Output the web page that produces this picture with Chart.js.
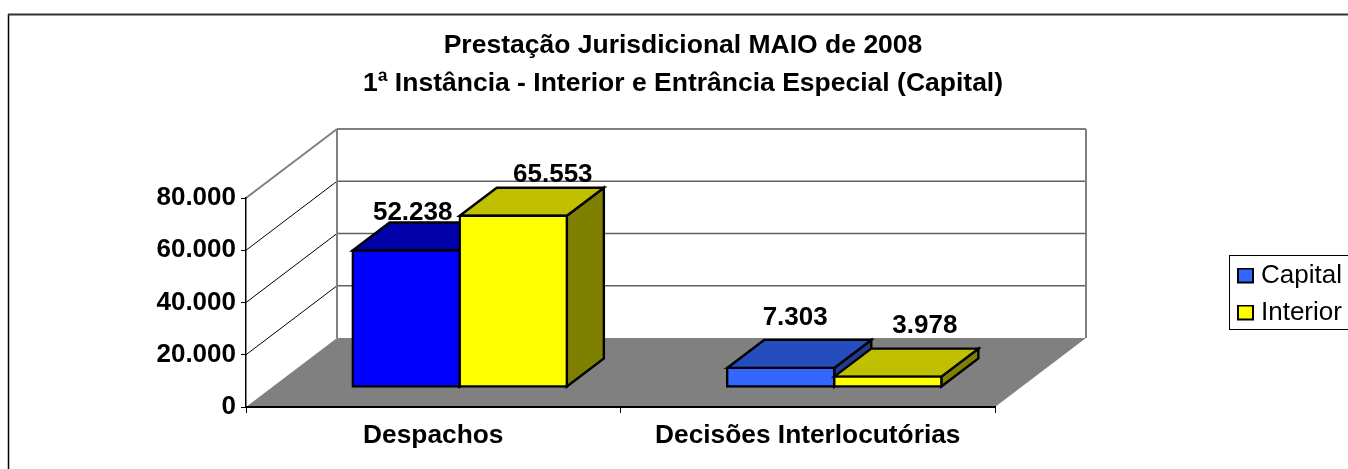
<!DOCTYPE html>
<html lang="pt">
<head>
<meta charset="utf-8">
<style>html,body{margin:0;padding:0;background:#fff;overflow:hidden}canvas{display:block}</style>
<script src="https://cdn.jsdelivr.net/npm/chart.js@4"></script>
</head>
<body>
<canvas id="c" width="1348" height="469"></canvas>
<script>
const categories = ['Despachos', 'Decisões Interlocutórias'];
const capitalValues = [52238, 7303];
const interiorValues = [65553, 3978];
const titleLines = ['Prestação Jurisdicional MAIO de 2008', '1ª Instância - Interior e Entrância Especial (Capital)'];

const capitalFront = ['#0000FF', '#3366FF'];
const capitalTop = ['#0000A8', '#264DBF'];
const capitalSide = ['#000080', '#1F3D8C'];
const interiorFront = ['#FFFF00', '#FFFF00'];
const interiorTop = ['#C0C000', '#C0C000'];
const interiorSide = ['#808000', '#808000'];

const FONT = '"Liberation Sans", Arial, sans-serif';
const fmt = v => String(v).replace(/\B(?=(\d{3})+(?!\d))/g, '.');

// 3-D projection constants (px)
const WALL_DX = 91, WALL_DY = 69;   // depth of floor / walls
const BAR_DX = 26.5, BAR_DY = 20;   // bars stand this far behind the front plane
const TOP_DX = 37, TOP_DY = 28;     // depth of each bar
// value-label offsets from the bar's front-top centre (manually placed in the original)
const labelOffsets = [[[6.5, -38], [14.5, -50.5]], [[39.5, -41], [37, -51]]];
const faces = [[capitalTop, capitalSide], [interiorTop, interiorSide]];

function poly(ctx, pts, fill, stroke, lw) {
  ctx.beginPath();
  pts.forEach((p, i) => i ? ctx.lineTo(p[0], p[1]) : ctx.moveTo(p[0], p[1]));
  ctx.closePath();
  if (fill) { ctx.fillStyle = fill; ctx.fill(); }
  if (stroke) { ctx.strokeStyle = stroke; ctx.lineWidth = lw; ctx.lineJoin = 'miter'; ctx.stroke(); }
}
function seg(ctx, x0, y0, x1, y1, color, lw) {
  ctx.beginPath(); ctx.moveTo(x0, y0); ctx.lineTo(x1, y1);
  ctx.strokeStyle = color; ctx.lineWidth = lw; ctx.stroke();
}

const swatch = color => {
  const c = document.createElement('canvas'); c.width = 17; c.height = 17;
  const g = c.getContext('2d');
  g.fillStyle = '#000'; g.fillRect(0, 0, 17, 16);
  g.fillStyle = color; g.fillRect(2, 2, 13, 12);
  return c;
};

const scene = {
  id: 'scene',
  afterLayout(chart) {
    const t = chart.titleBlock; t.left = 0; t.right = 1366;
    const l = chart.legend; l.left = 1232; l.right = 1500; l.top = 252; l.bottom = 340;
  },
  beforeDraw(chart) {
    const ctx = chart.ctx;
    ctx.save();
    ctx.fillStyle = '#fff'; ctx.fillRect(0, 0, chart.width, chart.height);
    seg(ctx, 8.5, 14, 8.5, chart.height, '#000', 1.5);
    seg(ctx, 8, 14.5, chart.width, 14.5, '#333', 2);
    const { left, right, top, bottom } = chart.chartArea;
    const y = chart.scales.y;
    // floor
    poly(ctx, [[left, bottom], [right, bottom], [right + WALL_DX, bottom - WALL_DY], [left + WALL_DX, bottom - WALL_DY]], '#808080');
    // grid lines
    [20000, 40000, 60000].forEach(v => {
      const p = y.getPixelForValue(v);
      seg(ctx, left, p, left + WALL_DX, p - WALL_DY, '#000', 1);
      seg(ctx, left + WALL_DX, p - WALL_DY, right + WALL_DX, p - WALL_DY, '#606060', 1.4);
    });
    // wall edges
    seg(ctx, left, top, left + WALL_DX, top - WALL_DY, '#808080', 2);
    seg(ctx, left + WALL_DX, top - WALL_DY, right + WALL_DX, top - WALL_DY, '#808080', 2);
    seg(ctx, left + WALL_DX, top - WALL_DY, left + WALL_DX, bottom - WALL_DY, '#808080', 2);
    seg(ctx, right + WALL_DX, top - WALL_DY, right + WALL_DX, bottom - WALL_DY, '#808080', 2);
    // legend frame
    ctx.strokeStyle = '#000'; ctx.lineWidth = 1;
    ctx.strokeRect(1229.5, 255.5, 200, 74);
    ctx.restore();
  },
  // Capital must be painted before Interior, so the datasets are walked in index order here.
  beforeDatasetsDraw(chart) {
    const ctx = chart.ctx;
    chart.data.datasets.forEach((ds, idx) => {
      const meta = chart.getDatasetMeta(idx);
      ctx.save();
      ctx.translate(BAR_DX, -BAR_DY);
      meta.data.forEach((bar, i) => {
        const x0 = bar.x - bar.width / 2, x1 = bar.x + bar.width / 2, yt = bar.y, yb = bar.base;
        poly(ctx, [[x1, yt], [x1 + TOP_DX, yt - TOP_DY], [x1 + TOP_DX, yb - TOP_DY], [x1, yb]], faces[idx][1][i], '#000', 2.4);
        poly(ctx, [[x0, yt], [x0 + TOP_DX, yt - TOP_DY], [x1 + TOP_DX, yt - TOP_DY], [x1, yt]], faces[idx][0][i], '#000', 2.4);
      });
      meta.controller.draw();
      ctx.restore();
    });
    ctx.save();
    ctx.font = 'bold 26px ' + FONT;
    ctx.fillStyle = '#000'; ctx.textAlign = 'center'; ctx.textBaseline = 'middle';
    chart.data.datasets.forEach((ds, d) => {
      chart.getDatasetMeta(d).data.forEach((bar, i) => {
        const o = labelOffsets[d][i];
        ctx.fillText(fmt(ds.data[i]), bar.x + BAR_DX + o[0], bar.y - BAR_DY + o[1]);
      });
    });
    ctx.restore();
    return false;
  }
};

new Chart(document.getElementById('c'), {
  type: 'bar',
  data: {
    labels: categories,
    datasets: [
      { label: 'Capital', data: capitalValues, backgroundColor: capitalFront },
      { label: 'Interior', data: interiorValues, backgroundColor: interiorFront }
    ]
  },
  plugins: [scene],
  options: {
    responsive: false, animation: false, events: [],
    layout: { padding: { left: 0, right: 352, top: 0, bottom: 0 } },
    datasets: { bar: { categoryPercentage: 0.572, barPercentage: 1, borderColor: '#000', borderWidth: 2.4, borderSkipped: false, inflateAmount: 1.2, clip: false } },
    scales: {
      x: {
        grid: { drawOnChartArea: false, color: '#000', tickLength: 6 },
        border: { color: '#000', width: 2 },
        ticks: { color: '#000', font: { family: FONT, size: 26.3, weight: 'bold' }, padding: 7, maxRotation: 0 },
        afterFit: s => { s.height = 62; }
      },
      y: {
        min: 0, max: 80000,
        grid: { drawOnChartArea: false, color: '#000', tickLength: 5 },
        border: { color: '#000', width: 1.5 },
        ticks: { stepSize: 20000, color: '#000', font: { family: FONT, size: 26, weight: 'bold' }, padding: 5, callback: v => fmt(v) },
        afterFit: s => { s.width = 246; }
      }
    },
    plugins: {
      title: { display: true, text: titleLines, color: '#000', font: { family: FONT, size: 26.5, weight: 'bold', lineHeight: 38 / 26.5 }, padding: { top: 27, bottom: 95 } },
      tooltip: { enabled: false },
      legend: {
        position: 'right', align: 'start', maxWidth: 1,
        labels: {
          color: '#000', font: { family: FONT, size: 26 }, padding: 11,
          usePointStyle: true, pointStyleWidth: 5, boxHeight: 11,
          generateLabels: () => [
            { text: 'Capital', pointStyle: swatch(capitalFront[1]), lineWidth: 0, datasetIndex: 0 },
            { text: 'Interior', pointStyle: swatch(interiorFront[1]), lineWidth: 0, datasetIndex: 1 }
          ]
        }
      }
    }
  }
});
</script>
</body>
</html>
